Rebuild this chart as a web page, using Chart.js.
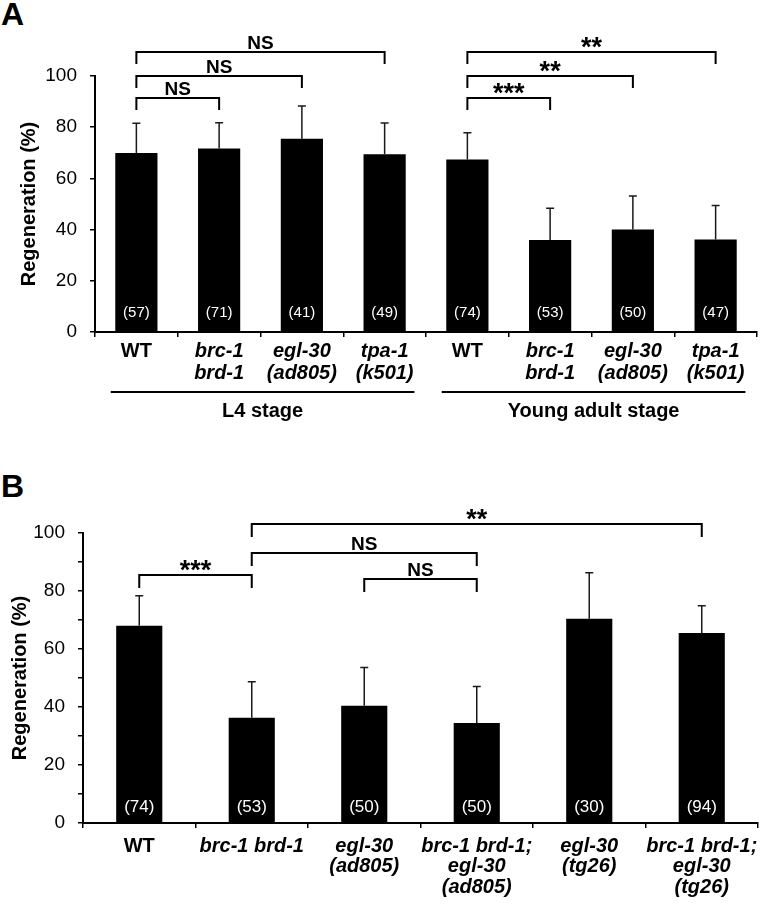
<!DOCTYPE html>
<html>
<head>
<meta charset="utf-8">
<script src="https://cdn.jsdelivr.net/npm/chart.js@4.4.0/dist/chart.umd.min.js"></script>
<style>
  body { margin: 0; background: #fff; width: 766px; height: 911px; position: relative; overflow: hidden; font-family: "Liberation Sans", Arial, sans-serif; }
  .panel { position: absolute; left: 0; }
  .letter { position: absolute; left: 1px; font-weight: bold; font-size: 32px; line-height: 32px; color: #000; }
</style>
</head>
<body>
<div class="letter" style="top:-2px">A</div>
<div class="letter" style="top:470px">B</div>
<canvas id="chartA" class="panel" style="top:0" width="766" height="430"></canvas>
<canvas id="chartB" class="panel" style="top:440px" width="766" height="471"></canvas>

<script>
// ===== Panel A data =====
const labelsA = [['WT'], ['brc-1', 'brd-1'], ['egl-30', '(ad805)'], ['tpa-1', '(k501)'],
                 ['WT'], ['brc-1', 'brd-1'], ['egl-30', '(ad805)'], ['tpa-1', '(k501)']];
const valuesA = [69.9, 71.7, 75.5, 69.4, 67.4, 35.9, 40.0, 36.1];
const errorsA = [11.6, 10.0, 12.8, 12.2, 10.4, 12.4, 13.1, 13.3];
const countsA = ['(57)', '(71)', '(41)', '(49)', '(74)', '(53)', '(50)', '(47)'];
const groupNamesA = ['L4 stage', 'Young adult stage'];
const groupRangesA = [[0, 3], [4, 7]];
// significance brackets: from / to category index, height (%), label
const bracketFromA = [0, 0, 0, 4, 4, 4];
const bracketToA = [1, 2, 3, 5, 6, 7];
const bracketLevelA = [91.4, 100, 109.4, 91.4, 100, 109.4];
const bracketTextA = ['NS', 'NS', 'NS', '***', '**', '**'];

// ===== Panel B data =====
const labelsB = [['WT'], ['brc-1 brd-1'], ['egl-30', '(ad805)'], ['brc-1 brd-1;', 'egl-30', '(ad805)'],
                 ['egl-30', '(tg26)'], ['brc-1 brd-1;', 'egl-30', '(tg26)']];
const valuesB = [68.0, 36.3, 40.4, 34.5, 70.4, 65.5];
const errorsB = [10.4, 12.4, 13.2, 12.6, 15.9, 9.4];
const countsB = ['(74)', '(53)', '(50)', '(50)', '(30)', '(94)'];
const bracketFromB = [0, 1, 1, 2];
const bracketToB = [1, 3, 5, 3];
const bracketLevelB = [85.6, 93.2, 103.2, 84.2];
const bracketTextB = ['***', 'NS', '**', 'NS'];

const FONT = '"Liberation Sans", Arial, sans-serif';

// error bars, n labels, brackets, group lines
const annotate = {
  id: 'annotate',
  afterDatasetsDraw(chart, args, o) {
    const { ctx } = chart;
    const x = chart.scales.x, y = chart.scales.y;
    const bars = chart.getDatasetMeta(0).data;
    ctx.save();
    // error bars (upper only)
    ctx.strokeStyle = '#1a1a1a';
    ctx.lineWidth = 1.5;
    bars.forEach((bar, i) => {
      const top = y.getPixelForValue(o.values[i] + o.errors[i]);
      ctx.beginPath();
      ctx.moveTo(bar.x, bar.y);
      ctx.lineTo(bar.x, top);
      ctx.moveTo(bar.x - 4, top);
      ctx.lineTo(bar.x + 4, top);
      ctx.stroke();
    });
    // n labels
    ctx.fillStyle = '#fff';
    ctx.font = `${o.countSize}px ${FONT}`;
    ctx.textAlign = 'center';
    ctx.textBaseline = 'middle';
    bars.forEach((bar, i) => {
      ctx.fillText(o.counts[i], bar.x, y.getPixelForValue(0) - o.countLift);
    });
    // brackets
    ctx.strokeStyle = '#000';
    ctx.fillStyle = '#000';
    ctx.lineWidth = 2;
    ctx.textBaseline = 'alphabetic';
    o.from.forEach((f, i) => {
      const x1 = x.getPixelForValue(f), x2 = x.getPixelForValue(o.to[i]);
      const ly = Math.round(y.getPixelForValue(o.level[i]));
      ctx.beginPath();
      ctx.moveTo(x1, ly + o.leg);
      ctx.lineTo(x1, ly);
      ctx.lineTo(x2, ly);
      ctx.lineTo(x2, ly + o.leg);
      ctx.stroke();
      const t = o.text[i];
      if (t.startsWith('*')) {
        ctx.font = `bold 27px ${FONT}`;
        ctx.fillText(t, (x1 + x2) / 2, ly + 4);
      } else {
        ctx.font = `bold 19px ${FONT}`;
        ctx.fillText(t, (x1 + x2) / 2, ly - 3);
      }
    });
    // group lines under axis
    if (o.groups) {
      const cw = x.getPixelForValue(1) - x.getPixelForValue(0);
      const gy = chart.chartArea.bottom + 60;
      ctx.font = `bold 20px ${FONT}`;
      ctx.textBaseline = 'middle';
      o.groups.forEach((g, i) => {
        const [a, b] = o.groupRanges[i];
        const xa = x.getPixelForValue(a) - 0.31 * cw, xb = x.getPixelForValue(b) + 0.36 * cw;
        ctx.beginPath();
        ctx.moveTo(xa, gy);
        ctx.lineTo(xb, gy);
        ctx.stroke();
        ctx.fillText(g, (xa + xb) / 2, gy + 19);
      });
    }
    ctx.restore();
  }
};

function makeChart(id, p) {
  return new Chart(document.getElementById(id), {
    type: 'bar',
    data: {
      labels: p.labels,
      datasets: [{ data: p.values, backgroundColor: '#000', borderWidth: 0,
                   barPercentage: p.barPct, categoryPercentage: 1 }]
    },
    options: {
      responsive: false,
      animation: false,
      devicePixelRatio: 1,
      layout: { padding: { top: p.top, right: p.right, left: 0, bottom: 0 } },
      plugins: {
        legend: { display: false },
        tooltip: { enabled: false },
        annotate: {
          values: p.values, errors: p.errors, counts: p.counts, countSize: p.countSize, countLift: p.countLift,
          from: p.from, to: p.to, level: p.level, text: p.text, leg: p.leg,
          groups: p.groups, groupRanges: p.groupRanges
        }
      },
      scales: {
        x: {
          ticks: {
            color: '#000', padding: p.xPad, maxRotation: 0, minRotation: 0, autoSkip: false,
            font: c => ({ family: FONT, size: 20, weight: 'bold', lineHeight: p.xLine,
                          style: (c.tick && c.tick.label && c.tick.label[0] === 'WT') ? 'normal' : 'italic' })
          },
          grid: { drawOnChartArea: false, drawTicks: true, tickLength: 5, offset: true, color: '#000', lineWidth: 1.5 },
          border: { display: true, color: '#000', width: 2 },
          afterFit: s => { s.height = p.xHeight; }
        },
        y: {
          min: 0, max: 100,
          ticks: { stepSize: 10, padding: 13, color: '#000', font: { family: FONT, size: 19 },
                   callback: v => (v % 20 === 0 ? v : '') },
          grid: { drawOnChartArea: false, drawTicks: true, tickLength: 5, color: '#000', lineWidth: 1.5 },
          border: { display: true, color: '#000', width: 2 },
          title: { display: true, text: 'Regeneration (%)', color: '#000',
                   font: { family: FONT, size: 20, weight: 'bold' }, padding: { top: p.titlePad, bottom: 0 } },
          afterFit: s => { s.width = p.yWidth; }
        }
      }
    },
    plugins: [annotate]
  });
}

makeChart('chartA', {
  labels: labelsA, values: valuesA, errors: errorsA, counts: countsA,
  countSize: 15, countLift: 19, barPct: 0.51,
  from: bracketFromA, to: bracketToA, level: bracketLevelA, text: bracketTextA, leg: 12,
  groups: groupNamesA, groupRanges: groupRangesA,
  top: 76, right: 9, yWidth: 95, xHeight: 98, xPad: 3, xLine: 1.1, titlePad: 17
});

makeChart('chartB', {
  labels: labelsB, values: valuesB, errors: errorsB, counts: countsB,
  countSize: 17, countLift: 16, barPct: 0.41,
  from: bracketFromB, to: bracketToB, level: bracketLevelB, text: bracketTextB, leg: 13,
  groups: null, groupRanges: null,
  top: 93, right: 8, yWidth: 83, xHeight: 88, xPad: 8, xLine: 1.03, titlePad: 8
});
</script>
</body>
</html>
